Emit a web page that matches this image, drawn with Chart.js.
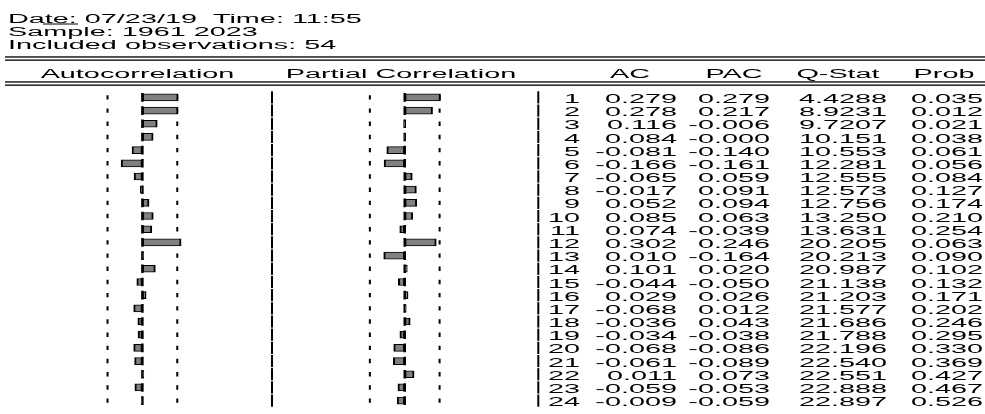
<!DOCTYPE html>
<html>
<head>
<meta charset="utf-8">
<script src="https://cdn.jsdelivr.net/npm/chart.js@4.4.1/dist/chart.umd.min.js"></script>
<style>
  html, body { margin: 0; padding: 0; background: #fff; }
  #wrap { width: 985px; height: 414px; }
</style>
</head>
<body>
<div id="wrap"><canvas id="corr" width="985" height="414"></canvas></div>
<script>
// correlogram values
const lags = [1, 2, 3, 4, 5, 6, 7, 8, 9, 10, 11, 12, 13, 14, 15, 16, 17, 18, 19, 20, 21, 22, 23, 24];
const ac = [0.279, 0.278, 0.116, 0.084, -0.081, -0.166, -0.065, -0.017, 0.052, 0.085, 0.074, 0.302,
            0.010, 0.101, -0.044, 0.029, -0.068, -0.036, -0.034, -0.068, -0.061, 0.011, -0.059, -0.009];
const pac = [0.279, 0.217, -0.006, -0.0004, -0.140, -0.161, 0.059, 0.091, 0.094, 0.063, -0.039, 0.246,
             -0.164, 0.020, -0.050, 0.026, 0.012, 0.043, -0.038, -0.086, -0.089, 0.073, -0.053, -0.059];
const qstat = [4.4288, 8.9231, 9.7207, 10.151, 10.553, 12.281, 12.555, 12.573, 12.756, 13.250, 13.631, 20.205,
               20.213, 20.987, 21.138, 21.203, 21.577, 21.686, 21.788, 22.196, 22.540, 22.551, 22.888, 22.897];
const prob = [0.035, 0.012, 0.021, 0.038, 0.061, 0.056, 0.084, 0.127, 0.174, 0.210, 0.254, 0.063,
              0.090, 0.102, 0.132, 0.171, 0.202, 0.246, 0.295, 0.330, 0.369, 0.427, 0.467, 0.526];
const bound = 0.272; // 2/sqrt(54)
const headerLines = ['Date: 07/23/19  Time: 11:55', 'Sample: 1961 2023', 'Included observations: 54'];
const colTitles = ['Autocorrelation', 'Partial Correlation', 'AC', 'PAC', 'Q-Stat', 'Prob'];

// layout
const W = 985;
const zeroA = 137.5, zeroP = 403.5, pxUnit = 130;
const FONT = '12px "Liberation Sans", Arial, sans-serif';
const SX = 2.4;

const labels = lags.map(String);
const pts = (vals) => lags.map((l, i) => ({ x: vals[i], y: String(l) }));
const zeros = lags.map(() => 0);
const bands = lags.flatMap(l => [{ x: -bound, y: String(l) }, { x: bound, y: String(l) }]);

function txt(ctx, s, x, y, align) {
    ctx.save();
    ctx.translate(x, y);
    ctx.scale(SX, 1);
    ctx.textAlign = align;
    ctx.fillText(s, 0, 0);
    ctx.restore();
}

const tablePlugin = {
    id: 'tablePlugin',
    afterDraw(chart) {
        const ctx = chart.ctx;
        const ys = chart.scales.y;
        ctx.save();
        ctx.fillStyle = '#000';
        ctx.font = FONT;
        ctx.textBaseline = 'alphabetic';

        // header block
        txt(ctx, headerLines[0], 8, 23, 'left');
        ctx.fillRect(43, 23.5, 35, 1);
        txt(ctx, headerLines[1], 8, 36, 'left');
        txt(ctx, headerLines[2], 8, 49, 'left');

        // double rules
        ctx.fillRect(5, 56.3, W - 5, 1.3);
        ctx.fillRect(5, 59.5, W - 5, 1.3);
        ctx.fillRect(5, 81.3, W - 5, 1.3);
        ctx.fillRect(5, 84.5, W - 5, 1.3);

        // column titles
        const titleX = [137.5, 401, 630, 734, 838, 944];
        colTitles.forEach((t, i) => txt(ctx, t, titleX[i], 78, 'center'));

        // rows
        lags.forEach((l, i) => {
            const y = ys.getPixelForValue(i);
            ctx.fillRect(271, y - 6.1, 2, 12.2);
            ctx.fillRect(537.3, y - 6.1, 2, 12.2);
            const by = y + 5.6;
            txt(ctx, String(l), 580, by, 'right');
            txt(ctx, ac[i].toFixed(3), 677, by, 'right');
            txt(ctx, pac[i].toFixed(3), 770, by, 'right');
            txt(ctx, qstat[i].toPrecision(5), 887, by, 'right');
            txt(ctx, prob[i].toFixed(3), 983, by, 'right');
        });
        ctx.restore();
    }
};

const barStyle = {
    backgroundColor: '#808080',
    borderColor: '#000',
    borderWidth: { top: 1, bottom: 1, left: 2, right: 2 },
    borderSkipped: false,
    barThickness: 7,
    grouped: false
};
const tickStyle = (axis, data, r, w) => ({
    type: 'line',
    xAxisID: axis,
    data: data,
    showLine: false,
    pointStyle: 'line',
    pointRotation: 90,
    pointRadius: r,
    pointBorderWidth: w,
    borderColor: '#000',
    backgroundColor: '#000'
});

new Chart(document.getElementById('corr'), {
    type: 'bar',
    data: {
        labels: labels,
        datasets: [
            Object.assign({ label: 'AC', xAxisID: 'xa', data: pts(ac) }, barStyle),
            Object.assign({ label: 'PAC', xAxisID: 'xp', data: pts(pac) }, barStyle),
            tickStyle('xa', pts(zeros), 4.3, 2.5),
            tickStyle('xp', pts(zeros), 4.3, 2.5),
            tickStyle('xa', bands, 2.2, 2),
            tickStyle('xp', bands, 2.2, 2)
        ]
    },
    options: {
        indexAxis: 'y',
        responsive: false,
        animation: false,
        devicePixelRatio: 1,
        layout: { padding: { top: 90.8, bottom: 3.2, left: 0, right: 0 } },
        plugins: { legend: { display: false }, tooltip: { enabled: false } },
        scales: {
            y: { type: 'category', offset: true, display: false },
            xa: { type: 'linear', axis: 'x', display: false, min: -zeroA / pxUnit, max: (W - zeroA) / pxUnit },
            xp: { type: 'linear', axis: 'x', display: false, min: -zeroP / pxUnit, max: (W - zeroP) / pxUnit }
        }
    },
    plugins: [tablePlugin]
});
</script>
</body>
</html>
